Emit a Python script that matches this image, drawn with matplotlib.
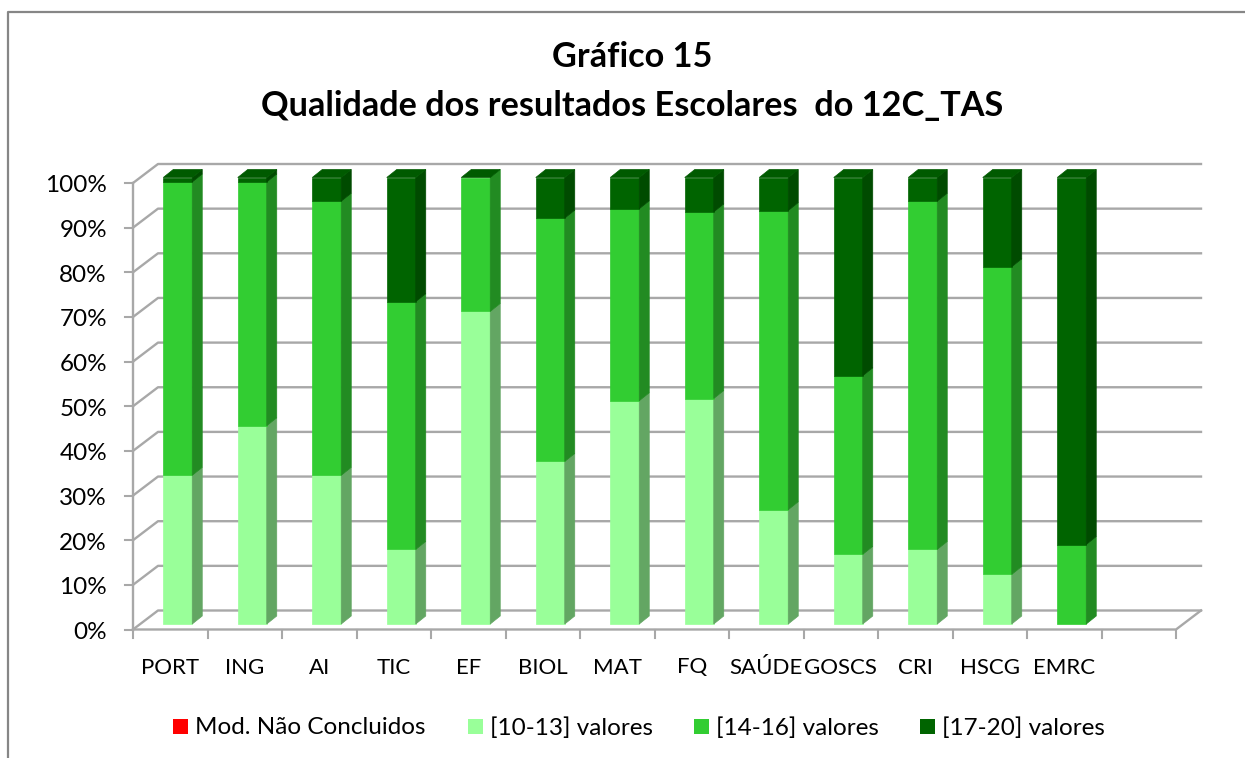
import matplotlib
matplotlib.use("Agg")
import matplotlib.pyplot as plt
from matplotlib.patches import Polygon

plt.rcParams['font.family'] = ['Lato', 'DejaVu Sans']

# values, percent per subject
subjects = ['PORT', 'ING', 'AI', 'TIC', 'EF', 'BIOL', 'MAT', 'FQ', 'SAÚDE', 'GOSCS', 'CRI', 'HSCG', 'EMRC']
nao_concluidos = [0, 0, 0, 0, 0, 0, 0, 0, 0, 0, 0, 0, 0]
v10_13 = [33.3, 44.4, 33.3, 16.7, 70.0, 36.4, 50.0, 50.5, 25.6, 15.6, 16.7, 11.1, 0]
v14_16 = [65.7, 54.6, 61.4, 55.5, 30.0, 54.5, 43.0, 41.8, 67.0, 40.0, 78.0, 68.9, 17.8]
v17_20 = [1.0, 1.0, 5.3, 27.8, 0, 9.1, 7.0, 7.7, 7.4, 44.4, 5.3, 20.0, 82.2]

series = [v10_13, v14_16, v17_20]
front_cols = ['#99FF99', '#32CD32', '#006400']
side_cols = ['#63A663', '#228B22', '#004B00']
cap_col = '#005A00'
legend_names = ['Mod. Não Concluidos', '[10-13] valores', '[14-16] valores', '[17-20] valores']
legend_cols = ['#FF0000', '#99FF99', '#32CD32', '#006400']

W, H = 1245, 758
fig = plt.figure(figsize=(W / 100, H / 100), dpi=100)

# frame of the chart area, drawn in pixels
bg = fig.add_axes([0, 0, 1, 1])
bg.set_xlim(0, W)
bg.set_ylim(H, 0)
bg.axis('off')
bg.plot([8, 8, W], [H, 12, 12], color='#868686', lw=1.6)

# front plane of the plot: x 133-1176, y 630-183 px
x0, x1, y0, y100 = 133, 1176, 629.5, 183
ax = fig.add_axes([x0 / W, 1 - y0 / H, (x1 - x0) / W, (y0 - y100) / H])
ax.set_xlim(0, 14)
ax.set_ylim(0, 100)
ax.axis('off')

px = 14 / (x1 - x0)
py = 100 / (y0 - y100)
dx = 25 * px   # depth of the back wall
dy = 19 * py
grid = '#A8A8A8'

for p in range(0, 101, 10):
    ax.plot([0, dx, 14 + dx], [p, p + dy, p + dy], color=grid, lw=1.7, clip_on=False, zorder=1)
    ax.plot([-8 * px, 0], [p, p], color=grid, lw=1.5, clip_on=False, zorder=1)
ax.plot([0, 0], [0, 100], color=grid, lw=1.7, clip_on=False, zorder=1)
ax.plot([0, 14, 14 + dx], [0, 0, dy], color=grid, lw=1.7, clip_on=False, zorder=1)
for i in range(15):
    ax.plot([i, i], [0, -8 * py], color=grid, lw=1.5, clip_on=False, zorder=1)

# 3d bars: front, side and top faces
bar_w = 29 * px
off_x = 7.5 * px
off_y = 5.5 * py
bar_dx = 10 * px
bar_dy = 8 * py
for i in range(len(subjects)):
    left = i + 0.5 + off_x - bar_w / 2
    right = left + bar_w
    bottom = 0
    for vals, fc, sc in zip(series, front_cols, side_cols):
        v = vals[i]
        if v <= 0:
            continue
        b = off_y + bottom
        t = off_y + bottom + v
        ax.add_patch(Polygon([(left, b), (right, b), (right, t), (left, t)], fc=fc, ec=fc, lw=0.5, clip_on=False, zorder=3))
        ax.add_patch(Polygon([(right, b), (right + bar_dx, b + bar_dy), (right + bar_dx, t + bar_dy), (right, t)],
                             fc=sc, ec=sc, lw=0.5, clip_on=False, zorder=3))
        bottom += v
    t = off_y + bottom
    ax.add_patch(Polygon([(left, t), (right, t), (right + bar_dx, t + bar_dy), (left + bar_dx, t + bar_dy)],
                         fc=cap_col, ec=cap_col, lw=0.5, clip_on=False, zorder=4))

for p in range(0, 101, 10):
    ax.text(-26 * px, p - 3 * py, f'{p}%', ha='right', va='center', fontsize=17.5, color='black', clip_on=False)
for i, s in enumerate(subjects):
    ax.text(i + 0.5, -38 * py, s, ha='center', va='center', fontsize=16, color='black', clip_on=False)

bg.text(632, 57, 'Gráfico 15', ha='center', va='center', fontsize=24.7, fontweight='bold')
bg.text(632, 106, 'Qualidade dos resultados Escolares  do 12C_TAS', ha='center', va='center', fontsize=24.7, fontweight='bold')

# legend
leg_sq = [173, 468, 694, 920]
for sx, name, col in zip(leg_sq, legend_names, legend_cols):
    bg.add_patch(plt.Rectangle((sx, 719), 15, 15, fc=col, ec='none'))
    bg.text(sx + 22, 728, name, ha='left', va='center', fontsize=17.5, color='black')

fig.savefig('out.png', dpi=100)
